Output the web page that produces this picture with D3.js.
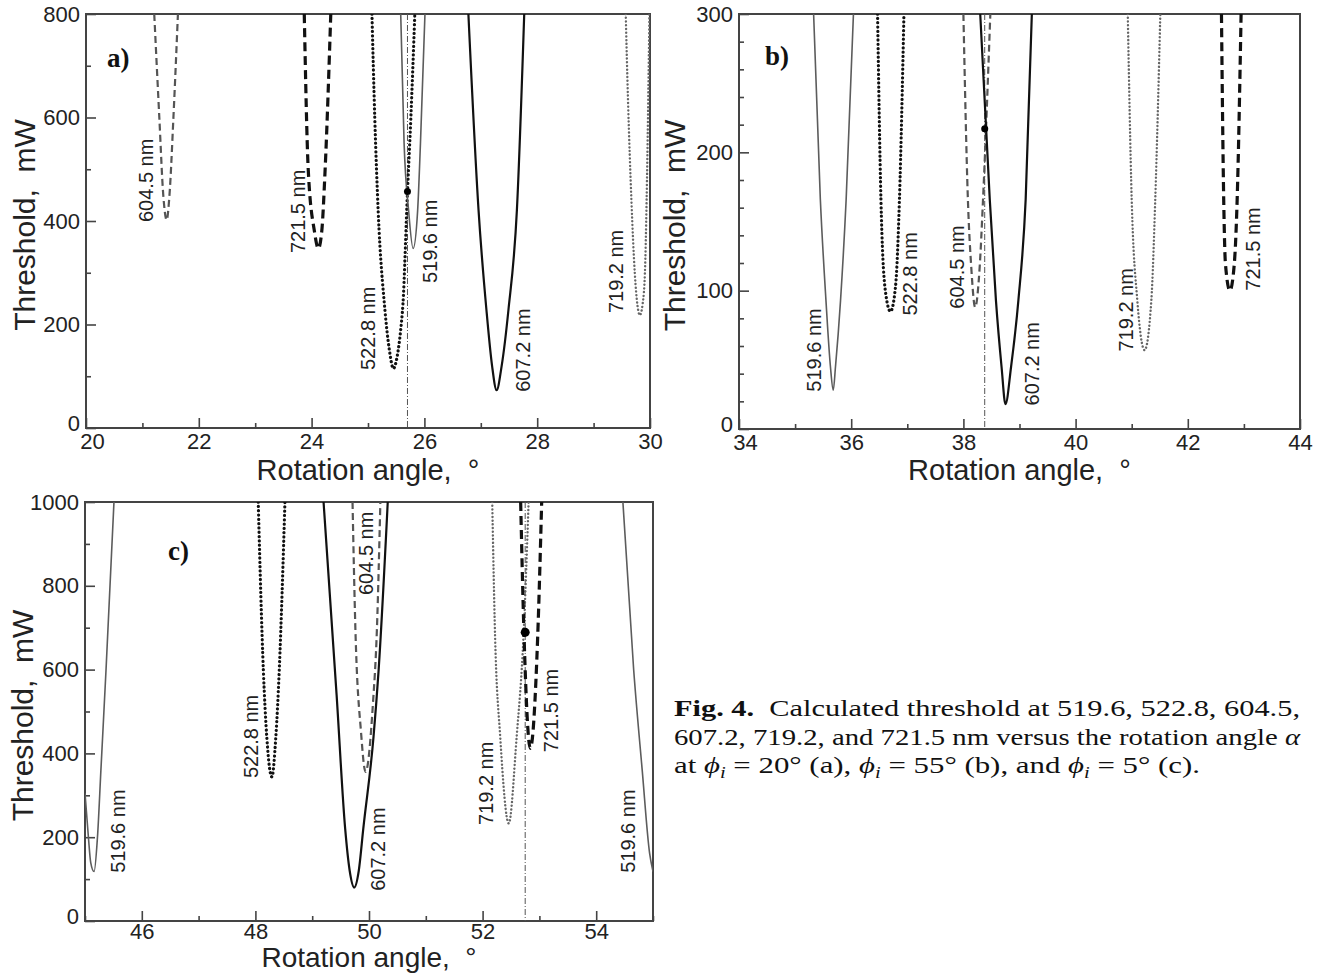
<!DOCTYPE html>
<html>
<head>
<meta charset="utf-8">
<script src="https://cdn.jsdelivr.net/npm/d3@7"></script>
<style>
  body { margin: 0; background: #fff; }
  svg { display: block; }
  .tick text { font-family: "Liberation Sans", Arial, sans-serif; font-size: 22px; fill: #222; }
  .tick line { stroke: #444; stroke-width: 1.6px; }
</style>
</head>
<body>
<svg id="chart"></svg>
<script>
// ---- data: [rotation angle (deg), threshold (mW)] ----
// panel a, phi_i = 20
const a519 = [[25.58,800],[25.64,550],[25.72,420],[25.80,347],[25.88,420],[25.93,550],[26.01,800]];
const a522 = [[25.07,800],[25.12,600],[25.18,421],[25.30,228],[25.38,150],[25.45,115],[25.52,140],[25.58,190],[25.62,240],[25.70,457],[25.76,600],[25.83,800]];
const a604 = [[21.21,800],[21.30,600],[21.37,450],[21.43,402],[21.48,450],[21.55,600],[21.63,800]];
const a607 = [[26.78,800],[26.96,421],[27.10,228],[27.20,120],[27.28,73],[27.37,120],[27.49,228],[27.64,421],[27.77,800]];
const a719 = [[29.57,800],[29.61,634],[29.67,441],[29.73,300],[29.78,235],[29.82,218],[29.87,240],[29.91,300],[29.94,441],[29.99,800]];
const a721 = [[23.87,800],[23.94,500],[24.05,380],[24.12,347],[24.18,380],[24.24,500],[24.34,800]];

// panel b, phi_i = 55
const b519 = [[35.33,300],[35.45,166],[35.55,93],[35.63,45],[35.68,28],[35.72,45],[35.81,93],[35.91,166],[36.04,300]];
const b522 = [[36.47,300],[36.53,166],[36.60,103],[36.70,85],[36.79,103],[36.86,166],[36.94,300]];
const b604 = [[38.00,300],[38.08,166],[38.14,117],[38.21,88],[38.29,117],[38.35,166],[38.48,300]];
const b607 = [[38.30,300],[38.47,166],[38.58,93],[38.68,45],[38.75,18],[38.85,45],[38.98,93],[39.11,166],[39.22,300]];
const b719 = [[40.93,300],[41.00,166],[41.10,93],[41.23,57],[41.35,93],[41.42,166],[41.51,300]];
const b721 = [[42.60,300],[42.64,166],[42.67,120],[42.75,100],[42.83,120],[42.88,166],[42.95,300]];

// panel c, phi_i = 5
const c519L = [[45.00,305],[45.06,200],[45.10,140],[45.16,118],[45.22,201],[45.28,360],[45.37,599],[45.51,1000]];
const c519R = [[54.47,1000],[54.66,599],[54.81,360],[54.94,162],[55.00,118]];
const c522 = [[48.05,1000],[48.14,599],[48.20,440],[48.29,344],[48.36,440],[48.42,599],[48.52,1000]];
const c604 = [[49.71,1000],[49.76,699],[49.86,450],[49.94,356],[50.07,520],[50.14,699],[50.20,1000]];
const c607 = [[49.20,1000],[49.43,539],[49.58,221],[49.66,120],[49.74,80],[49.82,120],[49.90,221],[50.08,440],[50.17,600],[50.33,1000]];
const c719 = [[52.17,1000],[52.22,679],[52.31,440],[52.46,233],[52.60,440],[52.72,679],[52.81,1000]];
const c721 = [[52.67,1000],[52.73,679],[52.84,412],[52.97,679],[53.04,1000]];

// marked operating points (dot + dash-dot vertical line)
const aMark = [25.70, 457];
const bMark = [38.38, 217];
const cMark = [52.75, 689];

// curve labels: [text, angle at baseline, threshold at text start]
const aLabels = [["604.5 nm",21.19,398],["721.5 nm",23.88,338],["522.8 nm",25.12,112],["519.6 nm",26.22,280],["607.2 nm",27.87,70],["719.2 nm",29.52,222]];
const bLabels = [["519.6 nm",35.47,27],["522.8 nm",37.18,82],["604.5 nm",38.01,87],["607.2 nm",39.34,17],["719.2 nm",41.03,56],["721.5 nm",43.28,100]];
const cLabels = [["519.6 nm",45.70,115],["522.8 nm",48.05,341],["604.5 nm",50.07,778],["607.2 nm",50.28,72],["719.2 nm",52.19,229],["721.5 nm",53.33,403],["519.6 nm",54.69,115]];

// ticks
const aXTicks = [20,22,24,26,28,30], aXMinor = [21,23,25,27,29];
const aYTicks = [0,200,400,600,800], aYMinor = [100,300,500,700];
const bXTicks = [34,36,38,40,42,44], bXMinor = [35,37,39,41,43];
const bYTicks = [0,100,200,300], bYMinor = [20,40,60,80,120,140,160,180,220,240,260,280];
const cXTicks = [46,48,50,52,54], cXMinor = [45,47,49,51,53,55];
const cYTicks = [0,200,400,600,800,1000], cYMinor = [100,300,500,700,900];

// ---- styles per wavelength ----
const styles = {
  "519.6": { stroke: "#5c5c5c", width: 1.6, dash: null, cap: "butt" },
  "522.8": { stroke: "#111", width: 3.2, dash: "0.1 4.2", cap: "round" },
  "604.5": { stroke: "#555", width: 2.2, dash: "7 4", cap: "butt" },
  "607.2": { stroke: "#111", width: 2.2, dash: null, cap: "butt" },
  "719.2": { stroke: "#666", width: 2.4, dash: "0.1 3.6", cap: "round" },
  "721.5": { stroke: "#111", width: 3.2, dash: "9 5", cap: "butt" }
};

const panels = [
  { id: "a", tag: "a)", box: [86, 650, 14, 428], xDom: [20, 30], yDom: [0, 800],
    series: [["604.5", a604], ["721.5", a721], ["522.8", a522], ["519.6", a519], ["607.2", a607], ["719.2", a719]],
    mark: aMark, labels: aLabels, xt: aXTicks, xm: aXMinor, yt: aYTicks, ym: aYMinor,
    tagPos: [107, 67], yTitleX: 35, xTitleY: 480, xPad: 5, titleSize: 29 },
  { id: "b", tag: "b)", box: [739, 1300, 14, 429], xDom: [34, 44], yDom: [0, 300],
    series: [["519.6", b519], ["522.8", b522], ["604.5", b604], ["607.2", b607], ["719.2", b719], ["721.5", b721]],
    mark: bMark, labels: bLabels, xt: bXTicks, xm: bXMinor, yt: bYTicks, ym: bYMinor,
    tagPos: [765, 65], yTitleX: 685, xTitleY: 480, xPad: 5, titleSize: 29 },
  { id: "c", tag: "c)", box: [85, 653, 502, 921], xDom: [45, 55], yDom: [0, 1000],
    series: [["519.6", c519L], ["519.6", c519R], ["522.8", c522], ["604.5", c604], ["607.2", c607], ["719.2", c719], ["721.5", c721]],
    mark: cMark, labels: cLabels, xt: cXTicks, xm: cXMinor, yt: cYTicks, ym: cYMinor,
    tagPos: [168, 560], yTitleX: 33, xTitleY: 967, xPad: 2, titleSize: 28 }
];

const svg = d3.select("#chart").attr("width", 1320).attr("height", 974);

panels.forEach(p => {
  const [x0, x1, y0, y1] = p.box;
  const x = d3.scaleLinear().domain(p.xDom).range([x0, x1]);
  const y = d3.scaleLinear().domain(p.yDom).range([y1, y0]);
  const g = svg.append("g").attr("class", "panel-" + p.id);

  g.append("clipPath").attr("id", "clip-" + p.id)
    .append("rect").attr("x", x0).attr("y", y0).attr("width", x1 - x0).attr("height", y1 - y0);

  // minor ticks
  g.append("g").attr("transform", `translate(0,${y1})`)
    .call(d3.axisBottom(x).tickValues(p.xm).tickSize(-5).tickFormat(""))
    .call(a => a.select(".domain").remove());
  g.append("g").attr("transform", `translate(${x0},0)`)
    .call(d3.axisLeft(y).tickValues(p.ym).tickSize(-5).tickFormat(""))
    .call(a => a.select(".domain").remove());

  // major ticks
  g.append("g").attr("transform", `translate(0,${y1})`)
    .call(d3.axisBottom(x).tickValues(p.xt).tickSize(-10).tickPadding(p.xPad).tickFormat(d3.format("d")))
    .call(a => a.select(".domain").remove())
    // first label sits a bit right of the corner, as in the original
    .call(a => a.selectAll(".tick text").filter(d => d === p.xDom[0]).attr("dx", 6));
  g.append("g").attr("transform", `translate(${x0},0)`)
    .call(d3.axisLeft(y).tickValues(p.yt).tickSize(-10).tickPadding(6).tickFormat(d3.format("d")))
    .call(a => a.select(".domain").remove())
    .call(a => a.selectAll(".tick text").filter(d => d === 0).attr("dy", "0.1em"));

  // frame
  g.append("rect")
    .attr("x", x0).attr("y", y0).attr("width", x1 - x0).attr("height", y1 - y0)
    .attr("fill", "none").attr("stroke", "#444").attr("stroke-width", 2);

  const plot = g.append("g").attr("clip-path", `url(#clip-${p.id})`);

  // vertical dash-dot line at marked angle
  plot.append("line")
    .attr("x1", x(p.mark[0])).attr("x2", x(p.mark[0]))
    .attr("y1", y0).attr("y2", y1)
    .attr("stroke", "#555").attr("stroke-width", 1)
    .attr("stroke-dasharray", "6 2 1 2");

  const line = d3.line()
    .x(d => x(d[0]))
    .y(d => y(d[1]))
    .curve(d3.curveMonotoneX);

  p.series.forEach(([nm, pts]) => {
    const s = styles[nm];
    plot.append("path")
      .attr("d", line(pts))
      .attr("fill", "none")
      .attr("stroke", s.stroke)
      .attr("stroke-width", s.width)
      .attr("stroke-linecap", s.cap)
      .attr("stroke-dasharray", s.dash);
  });

  plot.append("circle")
    .attr("cx", x(p.mark[0])).attr("cy", y(p.mark[1]))
    .attr("r", p.id === "c" ? 4.5 : 3.5).attr("fill", "#000");

  // curve labels
  g.selectAll("text.lbl").data(p.labels).join("text")
    .attr("class", "lbl")
    .attr("transform", d => `translate(${x(d[1])},${y(d[2])}) rotate(-90)`)
    .attr("font-family", "Liberation Sans, Arial, sans-serif")
    .attr("font-size", 20)
    .attr("fill", "#222")
    .text(d => d[0]);

  // panel tag
  g.append("text")
    .attr("x", p.tagPos[0]).attr("y", p.tagPos[1])
    .attr("font-family", "Liberation Serif, serif")
    .attr("font-weight", "bold")
    .attr("font-size", 27)
    .attr("fill", "#111")
    .text(p.tag);

  // axis titles
  g.append("text")
    .attr("transform", `translate(${p.yTitleX},${(y0 + y1) / 2 + 4}) rotate(-90)`)
    .attr("text-anchor", "middle")
    .attr("font-family", "Liberation Sans, Arial, sans-serif")
    .attr("font-size", 30)
    .attr("fill", "#222")
    .text("Threshold,\u00a0 mW");

  g.append("text")
    .attr("x", (x0 + x1) / 2).attr("y", p.xTitleY)
    .attr("text-anchor", "middle")
    .attr("font-family", "Liberation Sans, Arial, sans-serif")
    .attr("font-size", p.titleSize)
    .attr("fill", "#222")
    .text("Rotation angle,\u00a0 °");
});

// ---- caption ----
const cap = svg.append("g")
  .attr("font-family", "Liberation Serif, 'Times New Roman', serif")
  .attr("font-size", 24)
  .attr("fill", "#111");

const l1 = cap.append("text").attr("x", 674).attr("y", 716)
  .attr("textLength", 626).attr("lengthAdjust", "spacingAndGlyphs");
l1.append("tspan").attr("font-weight", "bold").text("Fig. 4.");
l1.append("tspan").text("\u2002Calculated threshold at 519.6, 522.8, 604.5,");

cap.append("text").attr("x", 674).attr("y", 745)
  .attr("textLength", 626).attr("lengthAdjust", "spacingAndGlyphs")
  .text("607.2, 719.2, and 721.5 nm versus the rotation angle ")
  .append("tspan").attr("font-style", "italic").text("α");

const l3 = cap.append("text").attr("x", 674).attr("y", 773)
  .attr("textLength", 526).attr("lengthAdjust", "spacingAndGlyphs");
const phi = (t, rest) => {
  t.append("tspan").attr("font-style", "italic").text("ϕ");
  t.append("tspan").attr("font-style", "italic").attr("font-size", 16).attr("dy", 5).text("i");
  t.append("tspan").attr("dy", -5).text(rest);
};
l3.append("tspan").text("at ");
phi(l3, "\u2005=\u200520° (a), ");
phi(l3, "\u2005=\u200555° (b), and ");
phi(l3, "\u2005=\u20055° (c).");
</script>
</body>
</html>
